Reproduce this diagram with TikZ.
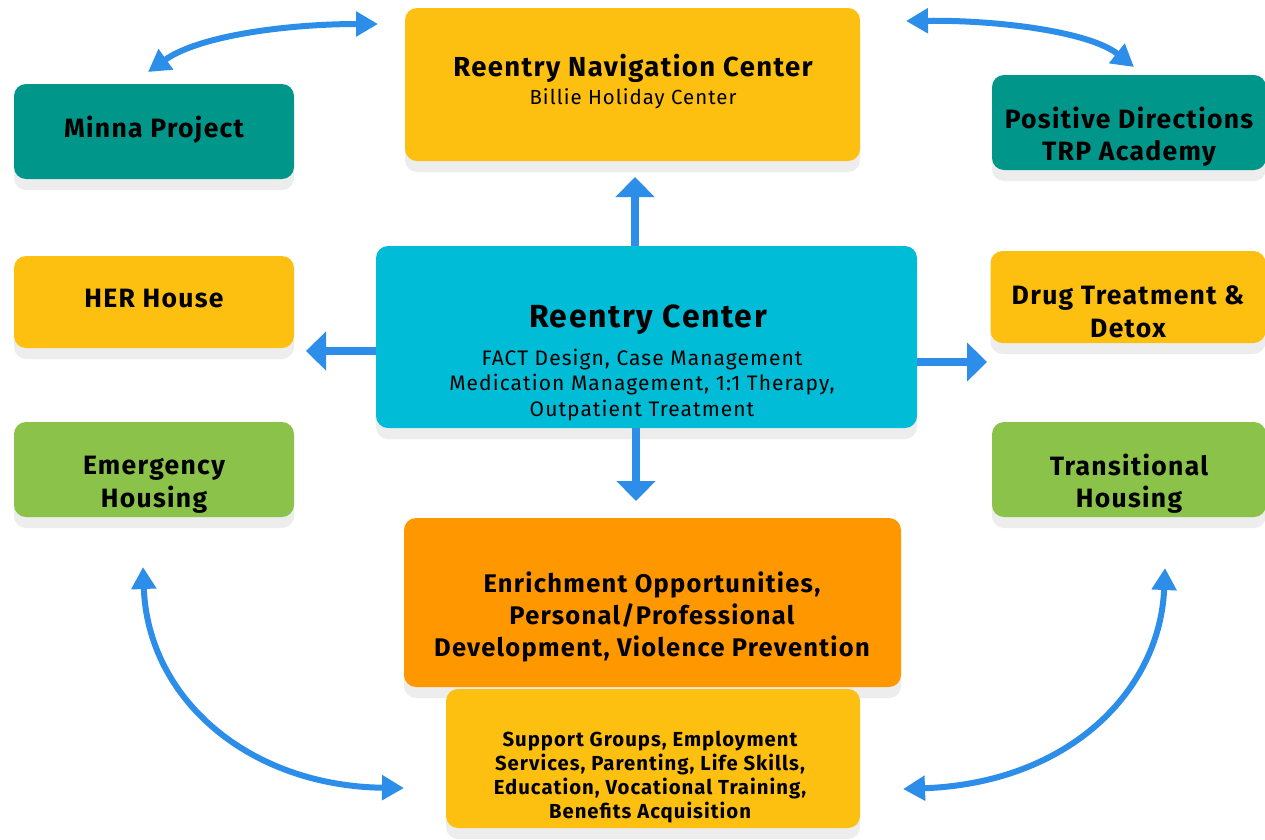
\documentclass[tikz,border=0pt]{standalone}
\usepackage{fontspec}
\setmainfont{Fira Sans}
\newfontfamily\kfont{Fira Sans}[LetterSpace=5]
\usetikzlibrary{arrows.meta,shadows}
\definecolor{cyellow}{HTML}{FDC010}
\definecolor{cteal}{HTML}{00968A}
\definecolor{ccyan}{HTML}{00BCD6}
\definecolor{cgreen}{HTML}{8BC34A}
\definecolor{corange}{HTML}{FF9800}
\definecolor{cblue}{HTML}{2C8EE8}
\definecolor{cshadow}{HTML}{EDEDED}
\tikzset{
  box/.style={rounded corners=12pt, inner sep=0pt,
    drop shadow={shadow xshift=0pt, shadow yshift=-11pt, fill=cshadow, opacity=1}},
  txt/.style={align=center, inner sep=0pt, font=\kfont\fontsize{26.5}{32.5}\selectfont\bfseries},
  lbl/.style={align=center, inner sep=0pt},
  sarrow/.style={draw=cblue, line width=8pt, -{Triangle[length=20pt,width=38pt]}},
  carrow/.style={draw=cblue, line width=6pt, {Triangle[length=22pt,width=24pt]}-{Triangle[length=22pt,width=24pt]}}
}
\begin{document}
\begin{tikzpicture}[x=1pt,y=-1pt]
\useasboundingbox (0,0) rectangle (1265,839);
\fill[white] (0,0) rectangle (1265,839);

% top centre box
\node[box, fill=cyellow, minimum width=455pt, minimum height=153pt] (nav) at (632.5,84.5) {};
\node[lbl, font=\kfont\fontsize{27.5}{32}\selectfont\bfseries] (navtext) at (633,82)
  {Reentry Navigation Center\\[-4pt]{\fontsize{20.4}{22}\selectfont\mdseries Billie Holiday Center}};

% side boxes
\node[box, fill=cteal, minimum width=280pt, minimum height=95pt] (minna) at (154,131.5) {};
\node[txt] (minnaT) at ([yshift=2pt]minna.center) {Minna Project};
\node[box, fill=cteal, minimum width=274pt, minimum height=95pt] (posdir) at (1129,122.5) {};
\node[txt] (posdirT) at ([yshift=-14pt]posdir.center) {Positive Directions\\TRP Academy};

\node[box, fill=cyellow, minimum width=280pt, minimum height=92pt] (her) at (154,302) {};
\node[txt] (herT) at ([yshift=3pt]her.center) {HER House};
\node[box, fill=cyellow, minimum width=275pt, minimum height=92pt] (drug) at (1128,297) {};
\node[txt] (drugT) at ([yshift=-15pt]drug.center) {Drug Treatment \&\\Detox};

\node[box, fill=cgreen, minimum width=280pt, minimum height=95pt] (emerg) at (154,469.5) {};
\node[txt] (emergT) at ([yshift=-15pt]emerg.center) {Emergency\\Housing};
\node[box, fill=cgreen, minimum width=274pt, minimum height=95pt] (trans) at (1129,469.5) {};
\node[txt] (transT) at ([yshift=-14pt]trans.center) {Transitional\\Housing};

% central box
\node[box, fill=ccyan, minimum width=541pt, minimum height=182pt] (reentry) at (646.5,337) {};
\node[lbl, font=\kfont\fontsize{32}{36}\selectfont\bfseries] (retitle) at (648,320) {Reentry Center};
\node[lbl, font=\kfont\fontsize{21}{25.5}\selectfont] (resub) at (642,385) {FACT Design, Case Management\\Medication Management, 1:1 Therapy,\\Outpatient Treatment};

% bottom boxes
\node[box, fill=corange, minimum width=497pt, minimum height=169pt] (enrich) at (652.5,602.5) {};
\node[lbl, font=\kfont\fontsize{25.5}{32}\selectfont\bfseries] (entext) at (652,616.5) {Enrichment Opportunities,\\Personal/Professional\\Development, Violence Prevention};

\node[box, fill=cyellow, minimum width=414pt, minimum height=139pt] (support) at (653,758.5) {};
\node[lbl, font=\kfont\fontsize{20.3}{24}\selectfont\bfseries] (sutext) at (650,777.5) {Support Groups, Employment\\Services, Parenting, Life Skills,\\Education, Vocational Training,\\Benefits Acquisition};

% straight arrows
\coordinate (upTip) at (635,177);
\coordinate (downTip) at (636,501);
\coordinate (leftTip) at (306,351);
\coordinate (rightTip) at (987,362);
\draw[sarrow] (reentry.north -| upTip) -- (upTip);
\draw[sarrow] (reentry.south -| downTip) -- (downTip);
\draw[sarrow] (reentry.west |- leftTip) -- (leftTip);
\draw[sarrow] (reentry.east |- rightTip) -- (rightTip);

% curved arrows
\coordinate (tlA) at (378,24);
\coordinate (tlB) at (148,72);
\coordinate (trA) at (906,21);
\coordinate (trB) at (1134,67);
\coordinate (blA) at (143,567);
\coordinate (blB) at (404,788);
\coordinate (brA) at (1165,568);
\coordinate (brB) at (903,789);
\draw[carrow] (tlB) .. controls (200,35) and (290,24) .. (tlA);
\draw[carrow] (trA) .. controls (1000,20) and (1090,32) .. (trB);
\draw[carrow] (blA) .. controls (148,700) and (250,786) .. (blB);
\draw[carrow] (brA) .. controls (1160,690) and (1070,783) .. (brB);
\end{tikzpicture}
\end{document}
